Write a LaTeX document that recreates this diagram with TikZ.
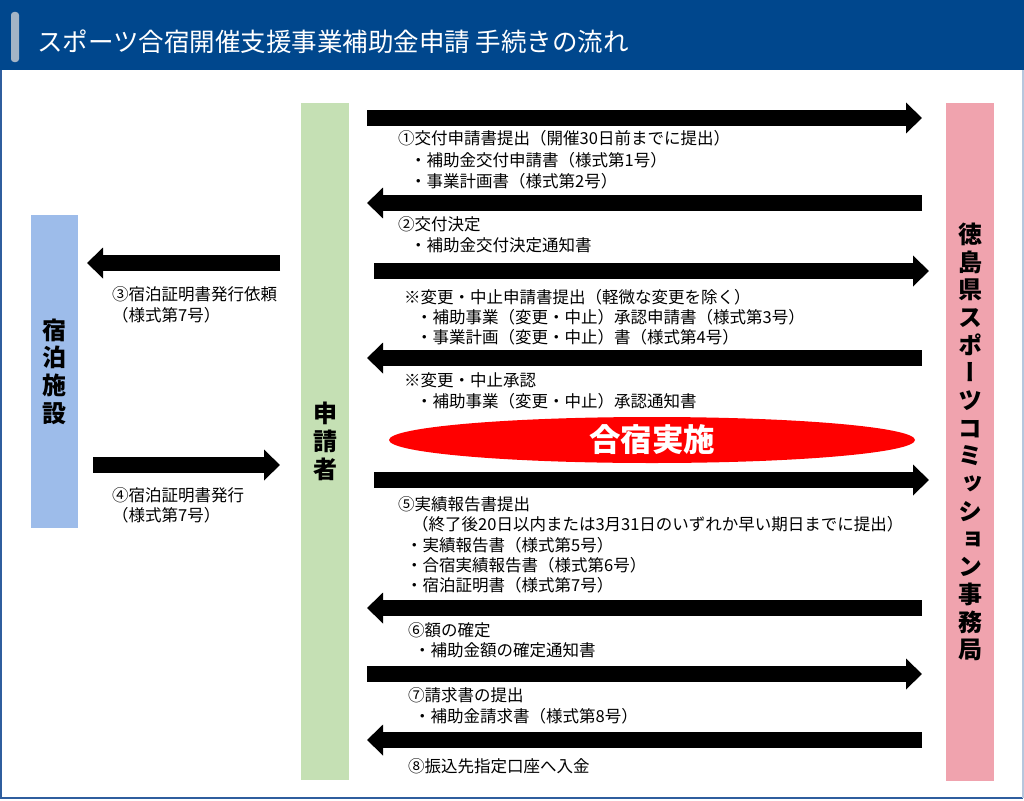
\documentclass[tikz,border=0pt]{standalone}
\usepackage{fontspec}
\setmainfont{Noto Sans CJK JP}
\newfontfamily\vfont[RawFeature=+vert]{Noto Sans CJK JP}
\usetikzlibrary{arrows.meta,shapes.geometric}
\definecolor{hdr}{HTML}{00478D}
\definecolor{frame}{HTML}{2F5E9E}
\definecolor{handle}{HTML}{A3B4C6}
\definecolor{innblue}{HTML}{9DBCEA}
\definecolor{appgreen}{HTML}{C5E0B4}
\definecolor{offpink}{HTML}{F0A3AE}
\definecolor{festred}{HTML}{FF0000}
\tikzset{
  barrow/.style={line width=16pt,-{Triangle[length=16pt,width=30pt]}},
  lbl/.style={anchor=west,inner sep=0pt,font=\fontsize{16.5}{18}\selectfont},
  colbox/.style={draw=none,inner sep=0pt,align=center,
    font=\vfont\bfseries\fontsize{24}{27.7}\selectfont},
}
\begin{document}
\begin{tikzpicture}[x=1pt,y=-1pt]
\useasboundingbox (0,0) rectangle (1024,800);
\fill[white] (0,0) rectangle (1024,800);
\draw[frame,line width=2pt] (1,69) -- (1,798) -- (1023,798);
\draw[frame!35,line width=1.5pt] (1023,69) -- (1023,798);
\fill[hdr] (0,0) rectangle (1024,70);
\fill[handle,rounded corners=3pt] (11,12) rectangle (19,62);
\node[anchor=west,inner sep=0pt,text=white,font=\fontsize{25.5}{27}\selectfont] (title) at (37,42) {スポーツ合宿開催支援事業補助金申請 手続きの流れ};

% columns
\node[colbox,fill=innblue,minimum width=47pt,minimum height=313pt] (inn) at (54.5,371.5) {宿\\泊\\施\\設};
\node[colbox,fill=appgreen,minimum width=48pt,minimum height=677pt] (app) at (325,441.5) {申\\請\\者};
\node[colbox,fill=offpink,minimum width=48pt,minimum height=678pt] (off) at (970,442) {徳\\島\\県\\ス\\ポ\\ー\\ツ\\コ\\ミ\\ッ\\シ\\ョ\\ン\\事\\務\\局};

% ellipse
\node[ellipse,fill=festred,minimum width=526pt,minimum height=46pt,inner sep=0pt,text=white,font=\bfseries\fontsize{31.5}{33}\selectfont] (fest) at (652,440) {合宿実施};

% arrow end points
\coordinate (a1s) at (367,118); \coordinate (a1e) at (922,118);
\coordinate (a2s) at (922,203); \coordinate (a2e) at (367,203);
\coordinate (a3s) at (374,271); \coordinate (a3e) at (929,271);
\coordinate (a4s) at (922,358); \coordinate (a4e) at (367,358);
\coordinate (a5s) at (374,480); \coordinate (a5e) at (929,480);
\coordinate (a6s) at (922,608); \coordinate (a6e) at (367,608);
\coordinate (a7s) at (367,674); \coordinate (a7e) at (922,674);
\coordinate (a8s) at (922,740); \coordinate (a8e) at (367,740);
\coordinate (b3s) at (280,263); \coordinate (b3e) at (87,263);
\coordinate (b4s) at (93,465); \coordinate (b4e) at (280,465);
\foreach \p in {a1,a2,a3,a4,a5,a6,a7,a8,b3,b4}
  \draw[barrow] (\p s) -- (\p e);

% labels
\node[lbl] (t1a) at (398,138) {①交付申請書提出（開催30日前までに提出）};
\node[lbl] (t1b) at (410,160) {・補助金交付申請書（様式第1号）};
\node[lbl] (t1c) at (410,181) {・事業計画書（様式第2号）};
\node[lbl] (t2a) at (398,224) {②交付決定};
\node[lbl] (t2b) at (410,245) {・補助金交付決定通知書};
\node[lbl] (tca) at (404,297) {※変更・中止申請書提出（軽微な変更を除く）};
\node[lbl] (tcb) at (416,317) {・補助事業（変更・中止）承認申請書（様式第3号）};
\node[lbl] (tcc) at (416,337) {・事業計画（変更・中止）書（様式第4号）};
\node[lbl] (tda) at (404,380) {※変更・中止承認};
\node[lbl] (tdb) at (416,401) {・補助事業（変更・中止）承認通知書};
\node[lbl] (t5a) at (398,504) {⑤実績報告書提出};
\node[lbl] (t5b) at (412,524) {（終了後20日以内または3月31日のいずれか早い期日までに提出）};
\node[lbl] (t5c) at (406,545) {・実績報告書（様式第5号）};
\node[lbl] (t5d) at (406,565) {・合宿実績報告書（様式第6号）};
\node[lbl] (t5e) at (406,585) {・宿泊証明書（様式第7号）};
\node[lbl] (t6a) at (408,630) {⑥額の確定};
\node[lbl] (t6b) at (414,650) {・補助金額の確定通知書};
\node[lbl] (t7a) at (408,695) {⑦請求書の提出};
\node[lbl] (t7b) at (414,716) {・補助金請求書（様式第8号）};
\node[lbl] (t8a) at (408,766) {⑧振込先指定口座へ入金};
\node[lbl] (t3a) at (112,294) {③宿泊証明書発行依頼};
\node[lbl] (t3b) at (112,315) {（様式第7号）};
\node[lbl] (t4a) at (112,495) {④宿泊証明書発行};
\node[lbl] (t4b) at (112,515) {（様式第7号）};
\end{tikzpicture}
\end{document}
